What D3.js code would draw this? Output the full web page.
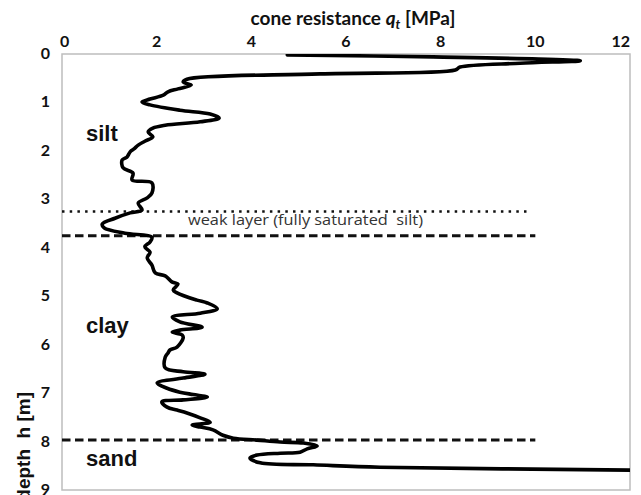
<!DOCTYPE html>
<html><head><meta charset="utf-8">
<script src="https://cdn.jsdelivr.net/npm/d3@7"></script>
<style>body{margin:0;background:#fff}svg{display:block}</style>
</head><body>
<svg id="c" width="641" height="495"></svg>
<script>
// depth [m] and cone resistance qt [MPa]
const depth = [0.02,0.06,0.14,0.19,0.27,0.33,0.41,0.52,0.58,0.64,0.72,0.78,0.85,0.93,0.99,1.05,1.16,1.24,1.32,1.40,1.47,1.53,1.61,1.71,1.80,1.88,1.96,2.02,2.13,2.19,2.35,2.46,2.60,2.66,2.87,2.97,3.08,3.22,3.28,3.39,3.51,3.59,3.70,3.78,3.88,3.98,4.09,4.21,4.36,4.52,4.58,4.71,4.75,4.87,4.93,5.08,5.14,5.26,5.35,5.43,5.53,5.64,5.70,5.74,5.80,5.86,6.05,6.11,6.17,6.26,6.48,6.56,6.61,6.69,6.79,6.90,6.98,7.03,7.08,7.14,7.18,7.29,7.35,7.41,7.51,7.60,7.66,7.70,7.76,7.87,7.93,7.97,8.01,8.03,8.09,8.15,8.22,8.24,8.28,8.34,8.44,8.48,8.53,8.59,8.61];
const qt = [4.76,7.84,10.95,9.68,8.41,8.31,5.45,2.64,2.56,2.73,2.45,2.24,2.14,1.86,1.69,1.86,2.49,3.13,3.32,2.92,2.18,1.92,1.82,1.92,1.75,1.61,1.52,1.44,1.37,1.27,1.29,1.50,1.48,1.90,1.90,1.80,1.61,1.69,1.44,1.12,0.85,0.89,1.33,1.90,1.86,1.75,1.86,1.80,1.90,1.97,2.18,2.33,2.45,2.35,2.43,2.85,3.07,3.28,2.92,2.33,2.49,2.96,2.49,2.33,2.54,2.56,2.43,2.28,2.24,2.18,2.18,2.56,3.02,2.56,2.01,2.22,2.49,2.77,3.07,2.56,2.11,2.22,2.43,2.64,2.92,3.13,2.75,2.92,3.19,3.40,3.62,4.12,4.61,5.10,5.39,5.18,5.03,4.61,4.12,3.97,4.19,5.31,6.72,12.01,13.0];
const xTicks = [0,2,4,6,8,10,12];
const yTicks = [0,1,2,3,4,5,6,7,8,9];
const layerNames = ["silt","clay","sand"];
const layerDepths = [1.8,5.75,8.5];
const boundaryDepths = [3.75,7.97];
const weakDepth = 3.25;
const boundaryMaxQ = 10;
const weakLabel = "weak layer (fully saturated  silt)";

const svg = d3.select("#c");
const x = d3.scaleLinear().domain([0,12]).range([62,630]);
const y = d3.scaleLinear().domain([0,9]).range([54,490]);

// frame
svg.append("rect").attr("x",x(0)).attr("y",y(0)).attr("width",x(12)-x(0)).attr("height",y(9)-y(0))
  .attr("fill","none").attr("stroke","#bdbdbd").attr("stroke-width",1.5);

// x tick labels
svg.append("g").selectAll("text").data(xTicks).join("text")
  .attr("x",d=> d===0 ? x(d)-2 : x(d))
  .attr("y",47)
  .attr("text-anchor",d=> d===0 ? "start" : d===12 ? "end" : "middle")
  .attr("font-family","Lato, 'Open Sans', sans-serif").attr("font-weight","bold").attr("font-size",16)
  .attr("fill","#111").text(d=>d);

// y tick labels
svg.append("g").selectAll("text").data(yTicks).join("text")
  .attr("x",50).attr("y",d=>y(d)+5)
  .attr("text-anchor","end")
  .attr("font-family","Lato, 'Open Sans', sans-serif").attr("font-weight","bold").attr("font-size",16)
  .attr("fill","#111").text(d=>d);

// title
const t = svg.append("text").attr("x",353).attr("y",25).attr("text-anchor","middle")
  .attr("font-family","Lato, 'Open Sans', sans-serif").attr("font-weight","bold").attr("font-size",19).attr("fill","#111");
t.append("tspan").text("cone resistance ");
t.append("tspan").attr("font-style","italic").text("q");
t.append("tspan").attr("font-style","italic").attr("font-size",13).attr("dy",4).text("t");
t.append("tspan").attr("dy",-4).text(" [MPa]");

// y axis title
svg.append("text").attr("transform","translate(30,392) rotate(-90)")
  .attr("text-anchor","end")
  .attr("font-family","'Liberation Sans', Arial, sans-serif").attr("font-weight","bold").attr("font-size",19)
  .attr("fill","#111").attr("xml:space","preserve").text("depth  h [m]");

// boundary lines
svg.append("line").attr("x1",x(0)).attr("x2",x(boundaryMaxQ)-5).attr("y1",y(weakDepth)).attr("y2",y(weakDepth))
  .attr("stroke","#111").attr("stroke-width",2.5).attr("stroke-dasharray","2.5,5.2");
svg.append("g").selectAll("line").data(boundaryDepths).join("line")
  .attr("x1",x(0)).attr("x2",x(boundaryMaxQ)).attr("y1",d=>y(d)).attr("y2",d=>y(d))
  .attr("stroke","#111").attr("stroke-width",3).attr("stroke-dasharray","8.5,4.5");

// weak layer label
svg.append("text").attr("x",188).attr("y",225)
  .attr("font-family","'Open Sans', sans-serif").attr("font-size",15).attr("fill","#333")
  .attr("textLength",235).attr("lengthAdjust","spacingAndGlyphs").attr("xml:space","preserve").text(weakLabel);

// layer labels
svg.append("g").selectAll("text").data(layerNames).join("text")
  .attr("x",86).attr("y",(d,i)=>y(layerDepths[i]))
  .attr("font-family","'Liberation Sans', Arial, sans-serif").attr("font-weight","bold").attr("font-size",22)
  .attr("fill","#111").text(d=>d);

// clip
svg.append("clipPath").attr("id","clip").append("rect")
  .attr("x",x(0)).attr("y",y(0)).attr("width",x(12)-x(0)).attr("height",y(9)-y(0));

const pts = depth.map((d,i)=>[qt[i],d]);
const line = d3.line().x(p=>x(p[0])).y(p=>y(p[1])).curve(d3.curveCatmullRom.alpha(0.5));
svg.append("path").attr("d",line(pts)).attr("clip-path","url(#clip)")
  .attr("fill","none").attr("stroke","#000").attr("stroke-width",3.6).attr("stroke-linejoin","round").attr("stroke-linecap","round");
</script>
</body></html>
